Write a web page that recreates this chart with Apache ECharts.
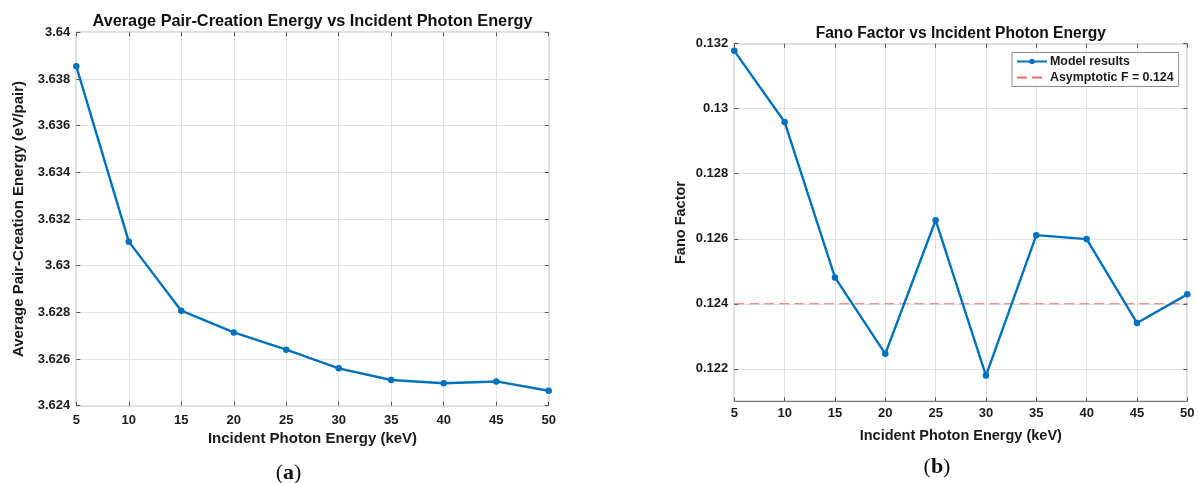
<!DOCTYPE html>
<html>
<head>
<meta charset="utf-8">
<script src="https://cdn.jsdelivr.net/npm/echarts@6/dist/echarts.min.js"></script>
<style>
html,body{margin:0;padding:0;background:#fff;}
#chart{width:1198px;height:483px;}
</style>
</head>
<body>
<div id="chart"></div>
<script>
// ---- data ----
const energies = [5, 10, 15, 20, 25, 30, 35, 40, 45, 50];
const pairEnergy = [3.63854, 3.63103, 3.62807, 3.62714, 3.62640, 3.62560, 3.62510, 3.62496, 3.62504, 3.62464];
const fanoFactor = [0.13178, 0.12959, 0.12481, 0.12246, 0.12657, 0.12179, 0.12611, 0.12599, 0.12341, 0.12429];
const asymptoticF = 0.124;
const fanoTicks = [0.122, 0.124, 0.126, 0.128, 0.13, 0.132];
const seriesNames = ['Model results', 'Asymptotic F = 0.124'];

const FONT = "'Liberation Sans', Arial, sans-serif";
const BLUE = '#0072BD';
const RED = '#f26d6a';
const AXIS = '#555555';
const GRID = '#e2e2e2';
const TXT = '#1a1a1a';

function pairs(xs, ys) { return xs.map((x, i) => [x, ys[i]]); }

const chart = echarts.init(document.getElementById('chart'), null, {renderer: 'canvas'});

const tickLabel = {color: TXT, fontFamily: FONT, fontWeight: 'bold', fontSize: 13};
const nameStyleA = {color: TXT, fontFamily: FONT, fontWeight: 'bold', fontSize: 15};
const nameStyleB = {color: TXT, fontFamily: FONT, fontWeight: 'bold', fontSize: 14.5};

function xAx(gridIndex, primary, nameGap, margin, nameStyle) {
  return {
    type: 'value', gridIndex: gridIndex, min: 5, max: 50, interval: 5,
    position: primary ? 'bottom' : 'top',
    name: primary ? 'Incident Photon Energy (keV)' : '',
    nameLocation: 'middle', nameGap: nameGap, nameTextStyle: nameStyle,
    axisLine: {show: false},
    axisTick: {show: true, inside: true, length: 4, lineStyle: {color: AXIS}},
    axisLabel: {show: primary, margin: margin, ...tickLabel},
    splitLine: {show: primary, lineStyle: {color: GRID, width: 1}}
  };
}

const option = {
  backgroundColor: '#ffffff',
  animation: false,
  grid: [
    {left: 76.3, top: 32.3, width: 472.4, height: 373.4, show: true, borderColor: AXIS, borderWidth: 1, backgroundColor: 'transparent'},
    {left: 734.3, top: 43.7, width: 453, height: 357.6, show: true, borderColor: AXIS, borderWidth: 1, backgroundColor: 'transparent'}
  ],
  xAxis: [
    xAx(0, true, 25, 8, nameStyleA),
    xAx(0, false, 0, 0, nameStyleA),
    xAx(1, true, 27, 6, nameStyleB),
    xAx(1, false, 0, 0, nameStyleB)
  ],
  yAxis: [
    {
      type: 'value', gridIndex: 0, min: 3.624, max: 3.64, interval: 0.002, position: 'left',
      name: 'Average Pair-Creation Energy (eV/pair)', nameLocation: 'middle', nameGap: 50, nameTextStyle: nameStyleA,
      axisLine: {show: false},
      axisTick: {show: true, inside: true, length: 4, lineStyle: {color: AXIS}},
      axisLabel: {margin: 6, ...tickLabel, formatter: v => String(+v.toFixed(3))},
      splitLine: {show: true, lineStyle: {color: GRID}}
    },
    {
      type: 'value', gridIndex: 0, min: 3.624, max: 3.64, interval: 0.002, position: 'right',
      axisLine: {show: false},
      axisTick: {show: true, inside: true, length: 4, lineStyle: {color: AXIS}},
      axisLabel: {show: false}, splitLine: {show: false}
    },
    {
      type: 'value', gridIndex: 1, min: 0.121, max: 0.132, position: 'left',
      name: 'Fano Factor', nameLocation: 'middle', nameGap: 46, nameTextStyle: nameStyleB,
      axisLine: {show: false},
      axisTick: {show: true, inside: true, length: 4, lineStyle: {color: AXIS}, customValues: fanoTicks},
      axisLabel: {margin: 6, ...tickLabel, customValues: fanoTicks, formatter: v => String(+v.toFixed(3))},
      splitLine: {show: true, lineStyle: {color: GRID}}
    },
    {
      type: 'value', gridIndex: 1, min: 0.121, max: 0.132, position: 'right',
      axisLine: {show: false},
      axisTick: {show: true, inside: true, length: 4, lineStyle: {color: AXIS}, customValues: fanoTicks},
      axisLabel: {show: false, customValues: fanoTicks}, splitLine: {show: false}
    }
  ],
  legend: {
    data: [
      {name: seriesNames[0]},
      {name: seriesNames[1], itemStyle: {opacity: 0, color: 'rgba(0,0,0,0)', borderWidth: 0}}
    ],
    orient: 'vertical',
    left: 1012, top: 52.5,
    backgroundColor: '#ffffff',
    borderColor: '#8c8c8c', borderWidth: 1,
    padding: [3, 5, 3, 4],
    itemWidth: 30, itemHeight: 7, itemGap: 4,
    textStyle: {color: TXT, fontFamily: FONT, fontWeight: 'bold', fontSize: 12.4, padding: [0, 0, 0, -2]}
  },
  series: [
    {
      name: 'Average pair-creation energy', type: 'line', xAxisIndex: 0, yAxisIndex: 0,
      data: pairs(energies, pairEnergy),
      symbol: 'circle', symbolSize: 6.5, showAllSymbol: true,
      lineStyle: {color: BLUE, width: 2.4}, itemStyle: {color: BLUE}, z: 5
    },
    {
      name: seriesNames[1], type: 'line', xAxisIndex: 2, yAxisIndex: 2,
      data: [[energies[0], asymptoticF], [energies[energies.length - 1], asymptoticF]],
      symbol: 'none',
      lineStyle: {color: RED, width: 1.2, type: [10, 5]}, itemStyle: {color: RED}, z: 3
    },
    {
      name: seriesNames[0], type: 'line', xAxisIndex: 2, yAxisIndex: 2,
      data: pairs(energies, fanoFactor),
      symbol: 'circle', symbolSize: 6.5, showAllSymbol: true,
      lineStyle: {color: BLUE, width: 2.4}, itemStyle: {color: BLUE}, z: 5
    }
  ],
  graphic: [
    {type: 'text', x: 312.5, y: 21.7, style: {text: 'Average Pair-Creation Energy vs Incident Photon Energy', font: "bold 16.3px 'Liberation Sans', Arial, sans-serif", fill: '#111', align: 'center', verticalAlign: 'middle'}},
    {type: 'text', x: 960.8, y: 33.3, style: {text: 'Fano Factor vs Incident Photon Energy', font: "bold 15.6px 'Liberation Sans', Arial, sans-serif", fill: '#111', align: 'center', verticalAlign: 'middle'}},
    {type: 'text', x: 288.5, y: 473, style: {text: '{p|(}{b|a}{p|)}', align: 'center', verticalAlign: 'middle',
      rich: {p: {font: "22px 'Liberation Serif', 'DejaVu Serif', serif", fill: '#111'}, b: {font: "bold 22px 'Liberation Serif', 'DejaVu Serif', serif", fill: '#111'}}}},
    {type: 'text', x: 937, y: 467, style: {text: '{p|(}{b|b}{p|)}', align: 'center', verticalAlign: 'middle',
      rich: {p: {font: "22px 'Liberation Serif', 'DejaVu Serif', serif", fill: '#111'}, b: {font: "bold 22px 'Liberation Serif', 'DejaVu Serif', serif", fill: '#111'}}}}
  ]
};
chart.setOption(option);
</script>
</body>
</html>
